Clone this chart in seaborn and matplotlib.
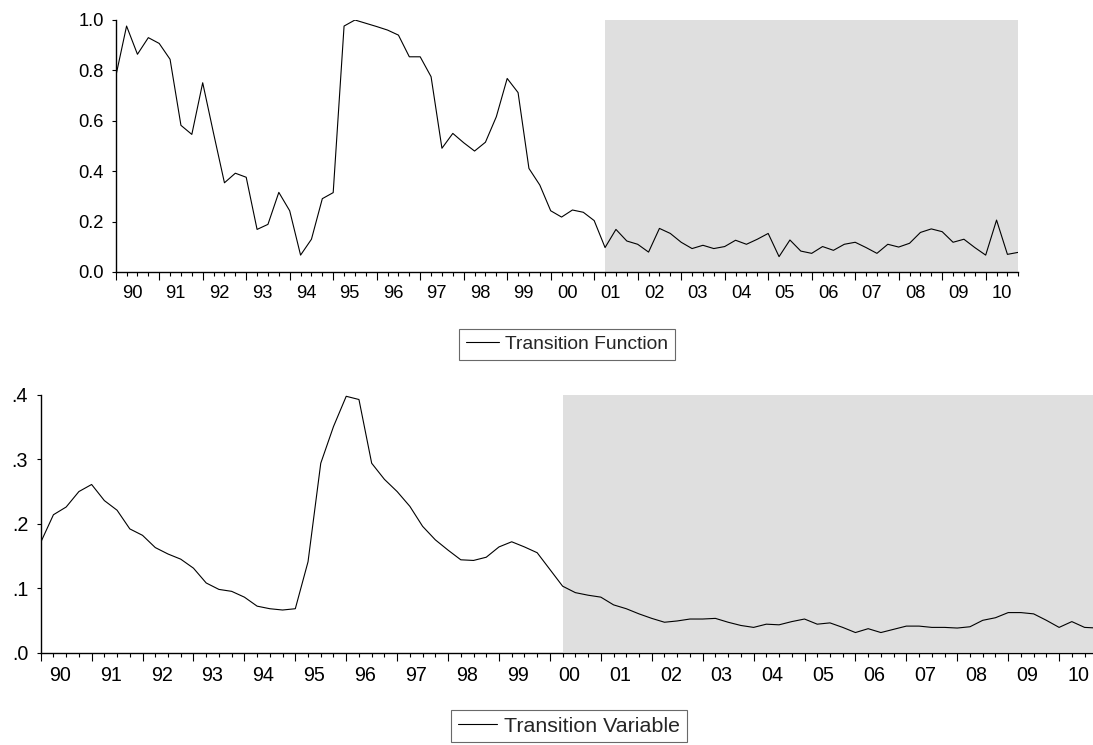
import matplotlib
matplotlib.use("Agg")
import matplotlib.pyplot as plt
import pandas as pd
import seaborn as sns

# Quarterly sample 1990Q1 - 2010Q4
quarters = pd.period_range("1990Q1", "2010Q4", freq="Q").astype(str).tolist()

transition_function = [
    0.775, 0.976, 0.864, 0.930, 0.907, 0.844, 0.582, 0.546, 0.751, 0.550,
    0.354, 0.392, 0.376, 0.169, 0.189, 0.316, 0.243, 0.067, 0.130, 0.291,
    0.315, 0.976, 1.000, 0.987, 0.974, 0.960, 0.940, 0.854, 0.854, 0.775,
    0.491, 0.550, 0.513, 0.480, 0.515, 0.616, 0.768, 0.712, 0.411, 0.345,
    0.243, 0.218, 0.246, 0.237, 0.204, 0.097, 0.169, 0.123, 0.110, 0.079,
    0.173, 0.153, 0.118, 0.093, 0.106, 0.093, 0.101, 0.126, 0.110, 0.130,
    0.153, 0.061, 0.127, 0.083, 0.074, 0.101, 0.086, 0.110, 0.118, 0.097,
    0.074, 0.110, 0.099, 0.114, 0.157, 0.171, 0.160, 0.118, 0.130, 0.097,
    0.067, 0.206, 0.070, 0.078,
]

transition_variable = [
    0.171, 0.214, 0.226, 0.250, 0.261, 0.236, 0.221, 0.192, 0.182, 0.163,
    0.153, 0.145, 0.131, 0.108, 0.098, 0.095, 0.086, 0.072, 0.068, 0.066,
    0.068, 0.141, 0.294, 0.351, 0.398, 0.393, 0.294, 0.269, 0.250, 0.227,
    0.196, 0.175, 0.159, 0.144, 0.143, 0.148, 0.164, 0.172, 0.164, 0.155,
    0.129, 0.103, 0.093, 0.089, 0.086, 0.074, 0.068, 0.060, 0.053, 0.047,
    0.049, 0.052, 0.052, 0.053, 0.047, 0.042, 0.039, 0.044, 0.043, 0.048,
    0.052, 0.044, 0.046, 0.039, 0.031, 0.037, 0.031, 0.036, 0.041, 0.041,
    0.039, 0.039, 0.038, 0.040, 0.050, 0.054, 0.062, 0.062, 0.060, 0.050,
    0.039, 0.048, 0.039, 0.038,
]

year_labels = ["90", "91", "92", "93", "94", "95", "96", "97", "98", "99", "00",
               "01", "02", "03", "04", "05", "06", "07", "08", "09", "10"]

top_yticks = [0.0, 0.2, 0.4, 0.6, 0.8, 1.0]
top_ylabels = ["0.0", "0.2", "0.4", "0.6", "0.8", "1.0"]
bottom_yticks = [0.0, 0.1, 0.2, 0.3, 0.4]
bottom_ylabels = [".0", ".1", ".2", ".3", ".4"]

# Start of the shaded regime period in each panel
shade_start_function = "2001Q2"
shade_start_variable = "2000Q2"

sns.set_style("white")
plt.rcParams["font.family"] = ["Liberation Sans", "DejaVu Sans"]
plt.rcParams["font.size"] = 13

df = pd.DataFrame({
    "quarter": quarters,
    "pos": range(len(quarters)),
    "Transition Function": transition_function,
    "Transition Variable": transition_variable,
})

W, H = 1093, 745
fig = plt.figure(figsize=(W / 100, H / 100), dpi=100)
fig.patch.set_facecolor("white")

ax_top = fig.add_axes([115.7 / W, 1 - 272 / H, 902.6 / W, 252 / H])
ax_bot = fig.add_axes([40.7 / W, 1 - 652.5 / H, 1056.6 / W, 257.5 / H])

n = len(quarters)
year_pos = [4 * i + 1.5 for i in range(len(year_labels))]

panels = [
    # axes, column, shade start, y ticks, y labels, y max, tick font, legend font,
    # legend handle length, legend border pad, y label pad
    (ax_top, "Transition Function", shade_start_function, top_yticks, top_ylabels,
     1.0, 13.2, 13.9, 1.72, 0.36, 5.5),
    (ax_bot, "Transition Variable", shade_start_variable, bottom_yticks, bottom_ylabels,
     0.4, 14.2, 15.4, 1.85, 0.30, 6.0),
]

for ax, col, shade_start, yt, yl, ymax, tfs, lfs, hl, bp, ypad in panels:
    start = quarters.index(shade_start)
    ax.axvspan(start, n - 1, color="#dfdfdf", lw=0, zorder=0)
    sns.lineplot(data=df, x="pos", y=col, ax=ax, color="black", lw=0.8,
                 estimator=None, label=col, zorder=3)
    ax.set_xlim(0, n - 1)
    ax.set_ylim(0, ymax)
    ax.set_xlabel("")
    ax.set_ylabel("")
    ax.set_facecolor("white")
    for s in ("top", "right"):
        ax.spines[s].set_visible(False)
    for s in ("left", "bottom"):
        ax.spines[s].set_color("black")
        ax.spines[s].set_linewidth(1.0)

    # Year-start ticks (long) and quarterly ticks (short)
    ax.set_xticks(list(range(0, n, 4)))
    ax.set_xticklabels([])
    ax.set_xticks(list(range(n)), minor=True)
    ax.tick_params(axis="x", which="major", direction="out", length=5.5,
                   width=0.8, color="black", bottom=True)
    ax.tick_params(axis="x", which="minor", direction="out", length=3,
                   width=0.8, color="black", bottom=True)

    ax.set_yticks(yt)
    ax.set_yticklabels(yl)
    ax.tick_params(axis="y", direction="out", length=3, width=0.8,
                   color="black", left=True, pad=ypad, labelsize=tfs,
                   labelcolor="black")

    # Year labels centred within each year
    sec = ax.secondary_xaxis("bottom")
    sec.set_xticks(year_pos)
    sec.set_xticklabels(year_labels)
    sec.tick_params(length=0, pad=9.5, labelsize=tfs, labelcolor="black")
    sec.spines["bottom"].set_visible(False)

    leg = ax.legend(loc="upper center", bbox_to_anchor=(0.5, -0.225),
                    frameon=True, fancybox=False, shadow=False,
                    handlelength=hl, handletextpad=0.33, borderpad=bp,
                    borderaxespad=0, fontsize=lfs)
    leg.get_frame().set_edgecolor("#444444")
    leg.get_frame().set_linewidth(0.8)
    for line in leg.get_lines():
        line.set_linewidth(0.8)

fig.savefig("out.png", dpi=100, facecolor="white")
